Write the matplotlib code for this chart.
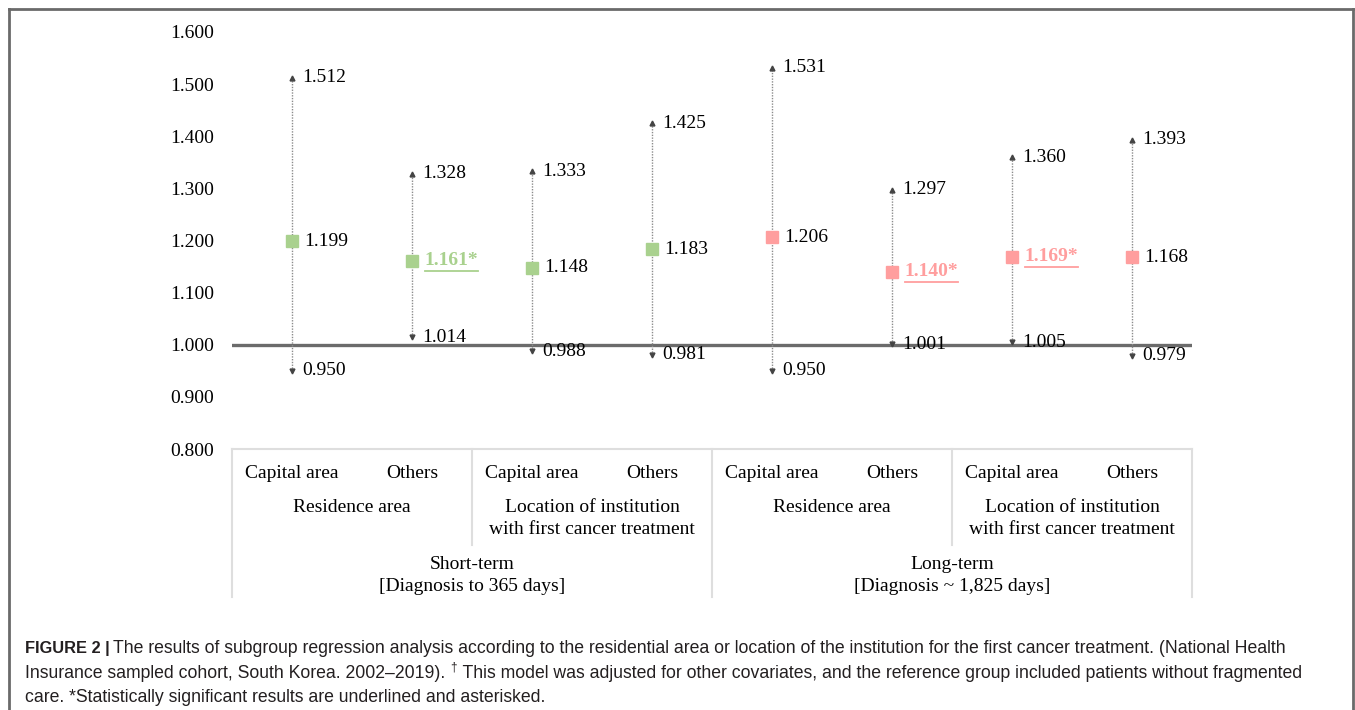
import matplotlib
matplotlib.use("Agg")
import matplotlib.pyplot as plt
import numpy as np
from matplotlib.transforms import blended_transform_factory, offset_copy

# ---------------- data ----------------
subgroups = ["Capital area", "Others", "Capital area", "Others",
             "Capital area", "Others", "Capital area", "Others"]
factors = ["Residence area", "Location of institution\nwith first cancer treatment",
           "Residence area", "Location of institution\nwith first cancer treatment"]
periods = ["Short-term\n[Diagnosis to 365 days]", "Long-term\n[Diagnosis ~ 1,825 days]"]
estimate = [1.199, 1.161, 1.148, 1.183, 1.206, 1.140, 1.169, 1.168]
lower = [0.950, 1.014, 0.988, 0.981, 0.950, 1.001, 1.005, 0.979]
upper = [1.512, 1.328, 1.333, 1.425, 1.531, 1.297, 1.360, 1.393]
significant = [False, True, False, False, False, True, True, False]
period_of = [0, 0, 0, 0, 1, 1, 1, 1]
yticks = [0.8, 0.9, 1.0, 1.1, 1.2, 1.3, 1.4, 1.5, 1.6]
ref_value = 1.0

period_colors = ["#a9d18e", "#ff9e9e"]

W, H = 1355, 710
fig = plt.figure(figsize=(W / 100, H / 100), dpi=100)
serif = "Liberation Serif"
sans = "Liberation Sans"
fs = 14

# background overlay in pixel coordinates
bg = fig.add_axes([0, 0, 1, 1], zorder=0)
bg.set_xlim(0, W)
bg.set_ylim(H, 0)
bg.axis("off")

# main axes: x 232..1192 px, y 0.8 at 449 px, 1.6 at 32 px
ax = fig.add_axes([232 / W, (H - 449) / H, 960 / W, (449 - 32) / H], zorder=2)
ax.patch.set_alpha(0)
n = len(estimate)
x = np.arange(n)
ax.set_xlim(-0.5, n - 0.5)
ax.set_ylim(0.8, 1.6)
for s in ax.spines.values():
    s.set_visible(False)
ax.set_xticks([])
ax.set_yticks(yticks)
ax.set_yticklabels([f"{v:.3f}" for v in yticks], fontfamily=serif, fontsize=fs)
ax.tick_params(axis="y", length=0, pad=13)

# reference line
ax.axhline(ref_value, color="#6b6b6b", lw=2.4, zorder=1)

# CI lines with arrowheads
for i in range(n):
    ax.plot([x[i], x[i]], [lower[i], upper[i]], color="#8c8c8c", lw=1.0,
            ls=(0, (1, 1)), zorder=2)
    ax.plot(x[i], upper[i], marker="^", ms=3.5, color="#444444", zorder=3)
    ax.plot(x[i], lower[i], marker="v", ms=3.5, color="#444444", zorder=3)
    col = period_colors[period_of[i]]
    ax.plot(x[i], estimate[i], marker="s", ms=8.5, color=col, mec=col, zorder=4)

fig.canvas.draw()
renderer = fig.canvas.get_renderer()

for i in range(n):
    col = period_colors[period_of[i]]
    tr_hi = offset_copy(ax.transData, fig=fig, x=7.5, y=0, units="points")
    ax.text(x[i], upper[i], f"{upper[i]:.3f}", transform=tr_hi, ha="left",
            va="center", fontfamily=serif, fontsize=fs, zorder=5)
    ax.text(x[i], lower[i], f"{lower[i]:.3f}", transform=tr_hi, ha="left",
            va="center", fontfamily=serif, fontsize=fs, zorder=5)
    tr_est = offset_copy(ax.transData, fig=fig, x=9, y=0, units="points")
    if significant[i]:
        t = ax.text(x[i], estimate[i], f"{estimate[i]:.3f}*", transform=tr_est,
                    ha="left", va="center", fontfamily=serif, fontsize=fs,
                    fontweight="bold", color=col, zorder=5)
        bb = t.get_window_extent(renderer)
        yline = bb.y0 - 2
        fig.add_artist(plt.Line2D([bb.x0, bb.x1], [yline, yline],
                                  transform=None, color=col, lw=1.3, zorder=6))
    else:
        ax.text(x[i], estimate[i], f"{estimate[i]:.3f}", transform=tr_est,
                ha="left", va="center", fontfamily=serif, fontsize=fs, zorder=5)

# ---------------- table under the axis ----------------
tcol = "#dedede"
xt = blended_transform_factory(ax.transData, bg.transData)
left_edge, right_edge = -0.5, n - 0.5
bg_line = dict(color=tcol, lw=1.5)
ax_x_to_px = lambda v: ax.transData.transform((v, 1.0))[0]
bg.plot([ax_x_to_px(left_edge), ax_x_to_px(right_edge)], [449, 449], **bg_line)
for v, ybot in [(left_edge, 597), (3.5, 597), (right_edge, 597), (1.5, 545), (5.5, 545)]:
    px = ax_x_to_px(v)
    bg.plot([px, px], [449, ybot], **bg_line)

for i in range(n):
    bg.text(x[i], 473, subgroups[i], transform=xt, ha="center", va="center",
            fontfamily=serif, fontsize=fs)
for j, f in enumerate(factors):
    bg.text(2 * j + 0.5, 499, f, transform=xt, ha="center", va="top",
            fontfamily=serif, fontsize=fs, linespacing=1.4)
for k, p in enumerate(periods):
    bg.text(4 * k + 1.5, 556, p, transform=xt, ha="center", va="top",
            fontfamily=serif, fontsize=fs, linespacing=1.4)

# ---------------- outer frame ----------------
fc = "#6a6a6a"
bg.plot([9, 9], [H, 8.5], color=fc, lw=2)
bg.plot([9, 1353], [8.5, 8.5], color=fc, lw=2)
bg.plot([1353, 1353], [8.5, H], color=fc, lw=2)

# ---------------- caption ----------------
cfs = 12.7
x0 = 25
def put(xp, yp, s, **kw):
    t = bg.text(xp, yp, s, ha="left", va="baseline", fontfamily=sans,
                fontsize=kw.pop("size", cfs), color="#231f20", **kw)
    return t

fig.canvas.draw()
t1 = put(x0, 653, "FIGURE 2 |", fontweight="bold", size=11.8)
e = t1.get_window_extent(renderer)
put(bg.transData.inverted().transform((e.x1, 0))[0] + 3, 653,
    "The results of subgroup regression analysis according to the residential area or location of the institution for the first cancer treatment. (National Health")
t2 = put(x0, 678, "Insurance sampled cohort, South Korea. 2002\u20132019). ")
e = t2.get_window_extent(renderer)
xd = bg.transData.inverted().transform((e.x1, 0))[0]
put(xd, 671, "\u2020", size=8.5)
put(xd + 8, 678, " This model was adjusted for other covariates, and the reference group included patients without fragmented")
put(x0, 702, "care. *Statistically significant results are underlined and asterisked.")

fig.savefig("out.png", dpi=100)
